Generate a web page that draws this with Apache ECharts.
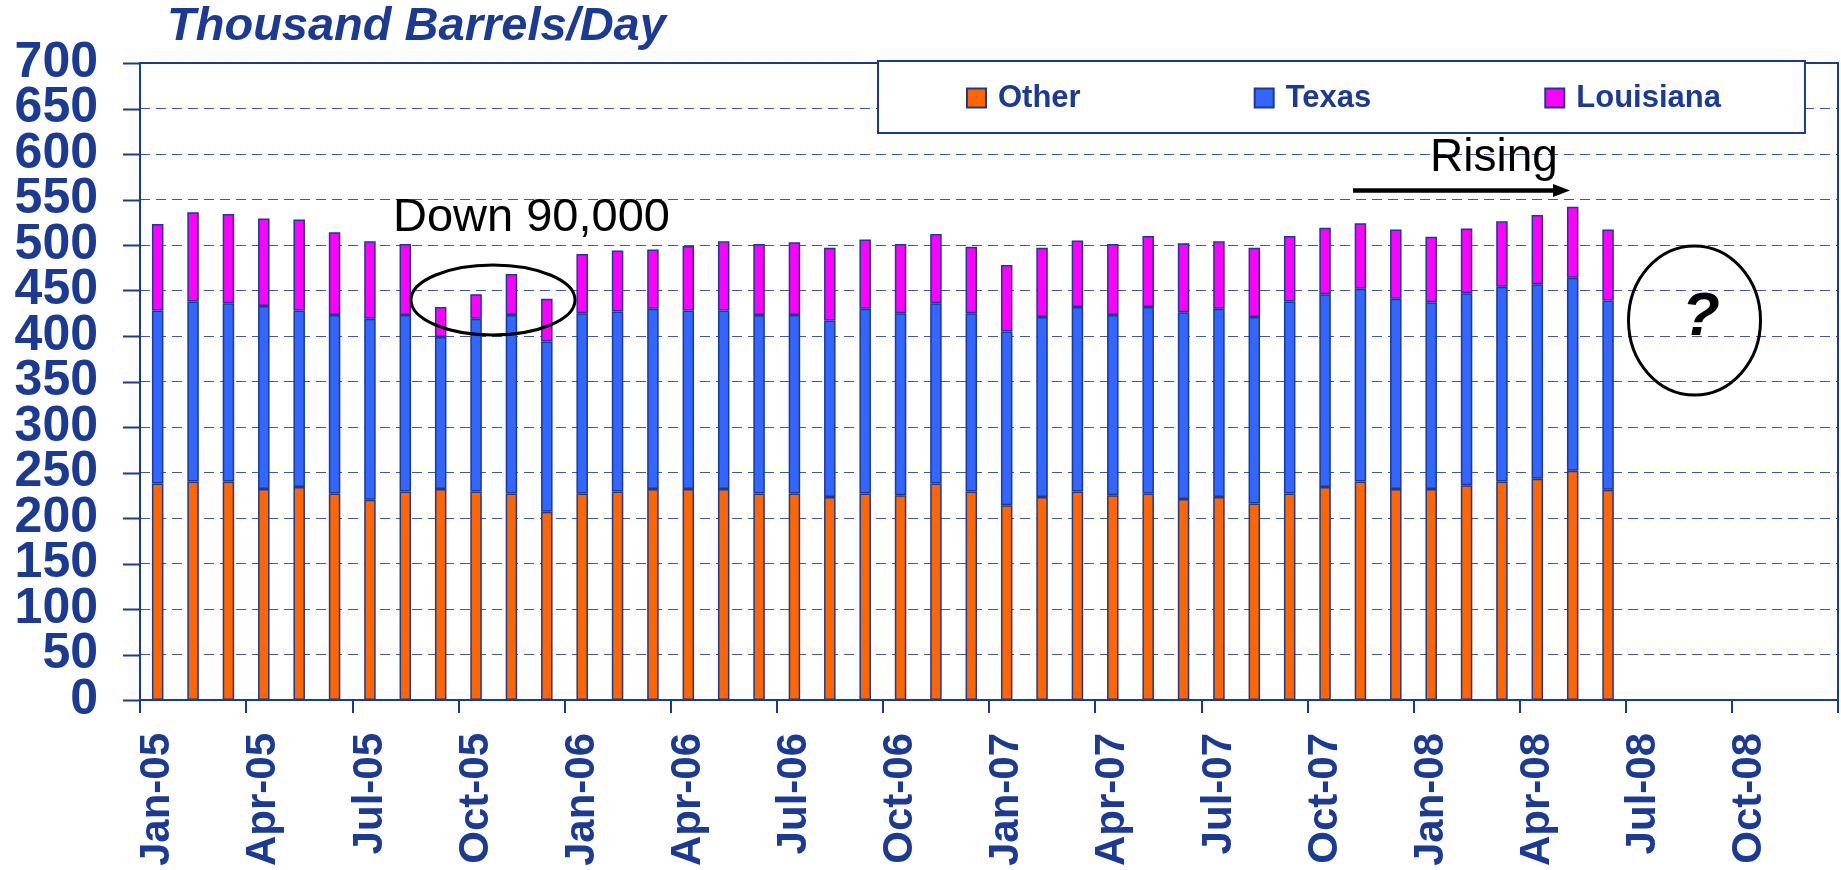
<!DOCTYPE html>
<html>
<head>
<meta charset="utf-8">
<script src="https://cdn.jsdelivr.net/npm/echarts@6/dist/echarts.min.js"></script>
<style>
html, body { margin: 0; padding: 0; background: #fff; }
#chart { width: 1841px; height: 870px; }
</style>
</head>
<body>
<div id="chart"></div>
<script>
// month categories, Jan-05 .. Dec-08 (labels shown every quarter)
const months = [
    'Jan-05','Feb-05','Mar-05','Apr-05','May-05','Jun-05','Jul-05','Aug-05','Sep-05','Oct-05','Nov-05','Dec-05',
    'Jan-06','Feb-06','Mar-06','Apr-06','May-06','Jun-06','Jul-06','Aug-06','Sep-06','Oct-06','Nov-06','Dec-06',
    'Jan-07','Feb-07','Mar-07','Apr-07','May-07','Jun-07','Jul-07','Aug-07','Sep-07','Oct-07','Nov-07','Dec-07',
    'Jan-08','Feb-08','Mar-08','Apr-08','May-08','Jun-08','Jul-08','Aug-08','Sep-08','Oct-08','Nov-08','Dec-08'
];

// y tick values
const yTicks = [0, 50, 100, 150, 200, 250, 300, 350, 400, 450, 500, 550, 600, 650, 700];

// thousand barrels/day, Jan-05 .. Jun-08
const other = [
    238, 240, 240, 232, 234, 227, 220, 229, 232, 229, 227, 207,
    227, 229, 232, 232, 232, 227, 227, 223, 227, 225, 238, 229,
    214, 223, 229, 225, 227, 221, 223, 216, 227, 234, 240, 232,
    232, 236, 240, 243, 252, 231
];
const texas = [
    190, 198, 196, 201, 194, 196, 199, 194, 167, 190, 196, 187,
    198, 198, 198, 196, 196, 196, 196, 194, 203, 200, 198, 196,
    191, 198, 203, 198, 205, 205, 207, 205, 211, 212, 212, 209,
    205, 211, 214, 214, 212, 208
];
const louisiana = [
    95, 98, 98, 96, 100, 91, 85, 78, 33, 27, 45, 47,
    65, 67, 65, 71, 76, 78, 80, 80, 76, 76, 76, 73,
    73, 76, 73, 78, 78, 76, 74, 76, 72, 73, 72, 76,
    72, 71, 72, 76, 78, 78
];

const NAVY = '#1B3A94';
const FONT = '"Liberation Sans", Arial, sans-serif';
const GRID_LEFT = 140;

const chart = echarts.init(document.getElementById('chart'));

function barSeries(name, data, color) {
    return {
        name: name,
        type: 'bar',
        stack: 'total',
        barWidth: 11.5,
        data: data,
        itemStyle: {
            color: color,
            borderColor: NAVY,
            borderWidth: 1.5
        },
        emphasis: { disabled: true }
    };
}

const yLabelStyle = {
    margin: 42,
    color: NAVY,
    fontFamily: FONT,
    fontWeight: 'bold',
    fontSize: 50
};

const option = {
    animation: false,
    backgroundColor: '#fff',
    grid: {
        left: GRID_LEFT,
        right: 3,
        top: 63,
        bottom: 170,
        show: true,
        borderColor: NAVY,
        borderWidth: 2,
        outerBoundsMode: 'none'
    },
    legend: {
        left: 878,
        top: 61,
        padding: [19, 84, 17, 88],
        itemGap: 173,
        itemWidth: 19,
        itemHeight: 19,
        icon: 'rect',
        backgroundColor: '#fff',
        borderColor: NAVY,
        borderWidth: 2,
        data: ['Other', 'Texas', 'Louisiana'],
        textStyle: {
            color: NAVY,
            fontFamily: FONT,
            fontWeight: 'bold',
            fontSize: 31,
            lineHeight: 36,
            padding: [0, 0, 0, 7]
        }
    },
    xAxis: {
        type: 'category',
        data: months,
        boundaryGap: true,
        axisLine: { show: true, lineStyle: { color: NAVY, width: 2 } },
        axisTick: { show: true, interval: 2, length: 13, lineStyle: { color: NAVY, width: 2 } },
        axisLabel: {
            interval: 2,
            rotate: 90,
            margin: 33,
            color: NAVY,
            fontFamily: FONT,
            fontWeight: 'bold',
            fontSize: 42
        },
        splitLine: { show: false }
    },
    yAxis: [
        {
            // inner labels 50..650 and dashed grid lines
            type: 'value',
            min: yTicks[0],
            max: yTicks[yTicks.length - 1],
            interval: 50,
            axisLine: { show: true, lineStyle: { color: NAVY, width: 2 } },
            axisTick: { show: false },
            axisLabel: Object.assign({ showMinLabel: false, showMaxLabel: false }, yLabelStyle),
            splitLine: {
                lineStyle: { color: NAVY, width: 1, type: [10, 6], opacity: 0.85 }
            }
        },
        {
            // end labels 0 and 700
            type: 'value',
            position: 'left',
            min: yTicks[0],
            max: yTicks[yTicks.length - 1],
            interval: 50,
            axisLine: { show: false },
            axisTick: { show: false },
            axisLabel: Object.assign({
                showMinLabel: true,
                showMaxLabel: true,
                formatter: function (v) {
                    return (v === yTicks[0] || v === yTicks[yTicks.length - 1]) ? String(v) : '';
                }
            }, yLabelStyle),
            splitLine: { show: false }
        }
    ],
    series: [
        barSeries('Other', other, '#FF6600'),
        barSeries('Texas', texas, '#3366FF'),
        barSeries('Louisiana', louisiana, '#FF00FF')
    ]
};

chart.setOption(option);

// outward tick marks on the y axis, placed through the axis scale
const tickMarks = yTicks.map(function (v) {
    const y = Math.round(chart.convertToPixel({ yAxisIndex: 0 }, v)) + 0.5;
    return {
        type: 'line', z: 5,
        shape: { x1: GRID_LEFT - 17, y1: y, x2: GRID_LEFT, y2: y },
        style: { stroke: NAVY, lineWidth: 2 }
    };
});

const notes = [
    {
        type: 'text', x: 167, y: 27, z: 10,
        style: {
            text: 'Thousand Barrels/Day', fill: NAVY,
            font: 'italic bold 47px ' + FONT,
            verticalAlign: 'middle', textVerticalAlign: 'middle'
        }
    },
    {
        type: 'text', x: 393, y: 218, z: 10,
        style: {
            text: 'Down 90,000', fill: '#000',
            font: 'normal 47px ' + FONT,
            verticalAlign: 'middle', textVerticalAlign: 'middle'
        }
    },
    {
        type: 'ellipse', z: 10,
        shape: { cx: 493, cy: 300, rx: 82, ry: 35 },
        style: { fill: 'none', stroke: '#000', lineWidth: 3 }
    },
    {
        type: 'text', x: 1430, y: 158, z: 10,
        style: {
            text: 'Rising', fill: '#000',
            font: 'normal 46px ' + FONT,
            verticalAlign: 'middle', textVerticalAlign: 'middle'
        }
    },
    {
        type: 'line', z: 10,
        shape: { x1: 1353, y1: 190.5, x2: 1556, y2: 190.5 },
        style: { stroke: '#000', lineWidth: 4.5 }
    },
    {
        type: 'polygon', z: 10,
        shape: { points: [[1553, 184], [1570, 190.5], [1553, 197]] },
        style: { fill: '#000' }
    },
    {
        type: 'ellipse', z: 10,
        shape: { cx: 1694.5, cy: 320.5, rx: 66, ry: 74.5 },
        style: { fill: 'none', stroke: '#000', lineWidth: 3 }
    },
    {
        type: 'text', x: 1701, y: 318, z: 10,
        style: {
            text: '?', fill: '#000',
            font: 'italic bold 62px ' + FONT,
            align: 'center', textAlign: 'center',
            verticalAlign: 'middle', textVerticalAlign: 'middle'
        }
    }
];

chart.setOption({ graphic: tickMarks.concat(notes) });
</script>
</body>
</html>
